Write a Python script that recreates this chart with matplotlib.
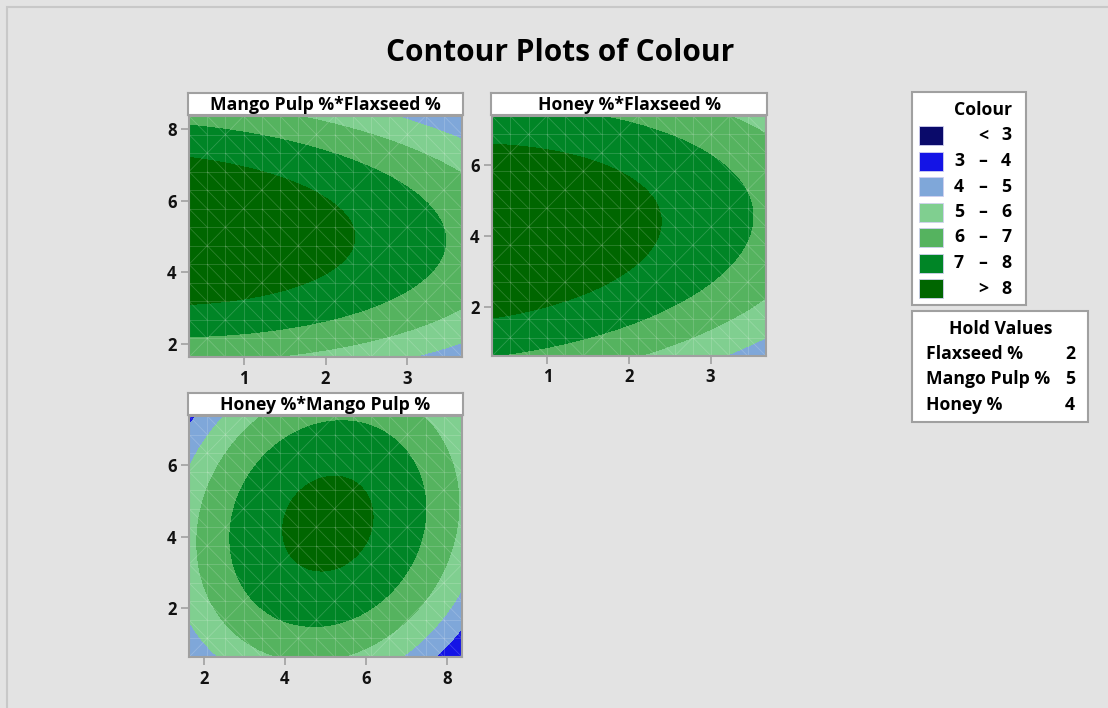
import numpy as np
import matplotlib
matplotlib.use("Agg")
import matplotlib.pyplot as plt
from matplotlib.patches import Rectangle
from matplotlib.collections import LineCollection

plt.rcParams['font.family'] = ['Open Sans', 'DejaVu Sans']
plt.rcParams['font.weight'] = 'bold'

W, H = 1108, 708
fig = plt.figure(figsize=(W / 100, H / 100), dpi=100)
fig.patch.set_facecolor('#e3e3e3')

# Fitted quadratic response-surface model for Colour (coded units)
# coded: x1 = Flaxseed - 2, x2 = (Mango - 5)/2, x3 = (Honey - 4)/2
intercept = 8.25
linear = [-0.64, 0.014, 0.22]          # x1, x2, x3
square = [-0.14, -0.89, -0.63]         # x1^2, x2^2, x3^2
interaction = [-0.074, 0.08, 0.21]     # x1x2, x1x3, x2x3

factor_names = ['Flaxseed %', 'Mango Pulp %', 'Honey %']
factor_center = [2, 5, 4]
factor_step = [1, 2, 2]
factor_low = [0.32, 1.64, 0.64]
factor_high = [3.68, 8.36, 7.36]
hold_values = [2, 5, 4]

levels = [-100, 3, 4, 5, 6, 7, 8, 100]
level_colors = ['#0a0a6a', '#1414e6', '#7fa7d9', '#80cf90',
                '#55b35f', '#008526', '#006600']
legend_labels = [('', '<', '3'), ('3', '–', '4'), ('4', '–', '5'),
                 ('5', '–', '6'), ('6', '–', '7'), ('7', '–', '8'),
                 ('', '>', '8')]

# (x factor, y factor, pixel box left, top, right, bottom, x ticks, y ticks)
panels = [
    (0, 1, 189, 116, 462, 357, [1, 2, 3], [2, 4, 6, 8]),
    (0, 2, 492, 116, 766, 356, [1, 2, 3], [2, 4, 6]),
    (1, 2, 189, 416, 462, 657, [2, 4, 6, 8], [2, 4, 6]),
]


def colour_model(vals):
    x = [(vals[i] - factor_center[i]) / factor_step[i] for i in range(3)]
    y = intercept
    for i in range(3):
        y = y + linear[i] * x[i] + square[i] * x[i] ** 2
    y = y + interaction[0] * x[0] * x[1]
    y = y + interaction[1] * x[0] * x[2]
    y = y + interaction[2] * x[1] * x[2]
    return y


def fx(px):
    return px / W


def fy(py):
    return 1 - py / H


def mesh_segments(nx=15, ny=13):
    # faint rendering mesh in axes coordinates: cell edges plus diagonals
    segs = []
    for i in range(nx + 1):
        segs.append([(i / nx, 0), (i / nx, 1)])
    for j in range(ny + 1):
        segs.append([(0, j / ny), (1, j / ny)])
    for i in range(nx):
        for j in range(ny):
            x0, x1 = i / nx, (i + 1) / nx
            y0, y1 = j / ny, (j + 1) / ny
            if (i * 7 + j * 3) % 5 == 0:
                segs.append([(x0, y0), (x1, y1)])
            else:
                segs.append([(x0, y1), (x1, y0)])
    return segs


frame_col = '#a0a0a0'
txt_size = 12.7

for xi, yi, l, t, r, b, xt, yt in panels:
    ax = fig.add_axes([fx(l), fy(b), fx(r) - fx(l), (b - t) / H])
    gx = np.linspace(factor_low[xi], factor_high[xi], 300)
    gy = np.linspace(factor_low[yi], factor_high[yi], 300)
    X, Y = np.meshgrid(gx, gy)
    vals = [np.full_like(X, hold_values[k]) for k in range(3)]
    vals[xi] = X
    vals[yi] = Y
    Z = colour_model(vals)
    ax.contourf(X, Y, Z, levels=levels, colors=level_colors)
    ax.add_collection(LineCollection(mesh_segments(), colors='white',
                                     linewidths=0.6, alpha=0.18,
                                     transform=ax.transAxes))
    ax.set_xlim(factor_low[xi], factor_high[xi])
    ax.set_ylim(factor_low[yi], factor_high[yi])
    ax.set_xticks(xt)
    ax.set_yticks(yt)
    ax.tick_params(direction='out', length=6, width=1.2, color=frame_col,
                   labelsize=12, pad=3, labelcolor='#111111')
    for lab in ax.get_xticklabels() + ax.get_yticklabels():
        lab.set_fontweight('bold')
    for s in ax.spines.values():
        s.set_color(frame_col)
        s.set_linewidth(1.5)
    # header strip naming the two plotted factors
    hdr = fig.add_axes([fx(l - 1), fy(t - 1), fx(r + 1) - fx(l - 1), 22 / H])
    hdr.set_xticks([])
    hdr.set_yticks([])
    hdr.set_facecolor('white')
    for s in hdr.spines.values():
        s.set_color(frame_col)
        s.set_linewidth(1.5)
    name_y = factor_names[yi]
    name_x = factor_names[xi]
    hdr.text(0.5, 0.45, f'{name_y}*{name_x}', ha='center', va='center',
             fontsize=txt_size, fontweight='bold', transform=hdr.transAxes)

fig.text(fx(560), fy(53), 'Contour Plots of Colour', ha='center',
         va='center', fontsize=21.5, fontweight='bold')

# outer frame of the graph window
fig.patches.append(Rectangle((fx(7), fy(H + 5)), fx(W + 5) - fx(7),
                             (H + 5 - 7) / H, transform=fig.transFigure,
                             fill=False, edgecolor='#c8c8c8', linewidth=1.5))

# colour legend box
fig.patches.append(Rectangle((fx(912), fy(305)), fx(1026) - fx(912),
                             (305 - 92) / H, transform=fig.transFigure,
                             facecolor='white', edgecolor=frame_col,
                             linewidth=1.5))
fig.text(fx(983), fy(110), 'Colour', ha='center', va='center',
         fontsize=txt_size, fontweight='bold')
for k, (c, lab) in enumerate(zip(level_colors, legend_labels)):
    yc = 135.5 + k * 25.5
    fig.patches.append(Rectangle((fx(919), fy(yc + 9.5)), 24 / W, 19 / H,
                                 transform=fig.transFigure, facecolor=c,
                                 edgecolor='#d0d0f0', linewidth=0.6))
    for txt, xc in zip(lab, (959, 983, 1006)):
        if txt:
            fig.text(fx(xc), fy(yc), txt, ha='center', va='center',
                     fontsize=txt_size, fontweight='bold')

# hold values box
fig.patches.append(Rectangle((fx(912), fy(422)), fx(1088) - fx(912),
                             (422 - 311) / H, transform=fig.transFigure,
                             facecolor='white', edgecolor=frame_col,
                             linewidth=1.5))
fig.text(fx(1001), fy(329), 'Hold Values', ha='center', va='center',
         fontsize=txt_size, fontweight='bold')
for k, (name, v) in enumerate(zip(factor_names, hold_values)):
    yc = 354 + k * 25.5
    fig.text(fx(926), fy(yc), name, ha='left', va='center',
             fontsize=txt_size, fontweight='bold')
    fig.text(fx(1075), fy(yc), str(v), ha='right', va='center',
             fontsize=txt_size, fontweight='bold')

fig.savefig('out.png', dpi=100, facecolor=fig.get_facecolor())
